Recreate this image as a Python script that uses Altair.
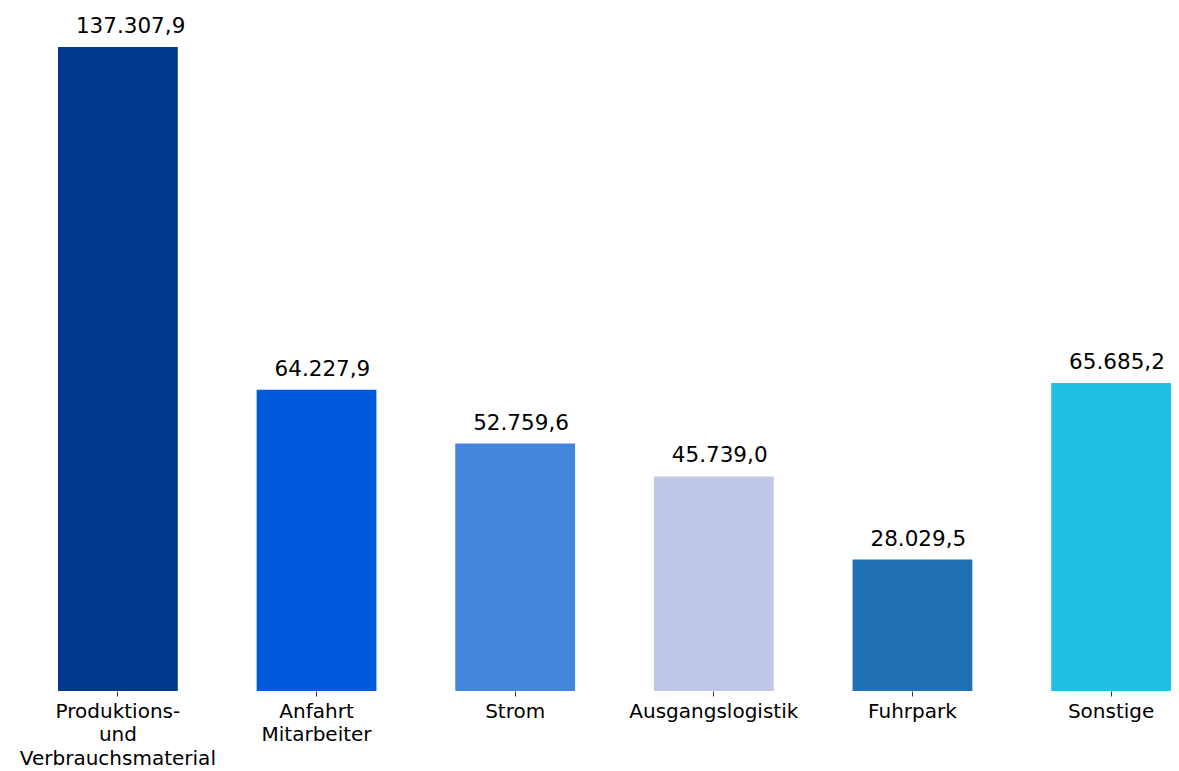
import altair as alt
import pandas as pd

categories = ["Produktions-\nund\nVerbrauchsmaterial", "Anfahrt\nMitarbeiter", "Strom",
              "Ausgangslogistik", "Fuhrpark", "Sonstige"]
values = [137307.9, 64227.9, 52759.6, 45739.0, 28029.5, 65685.2]
colors = ["#003a8f", "#005bdc", "#4485dd", "#bfc8e6", "#1f70b4", "#1fbfe6"]

def de_fmt(v):
    s = f"{v:,.1f}"
    return s.replace(",", "X").replace(".", ",").replace("X", ".")

df = pd.DataFrame({
    "cat": categories,
    "value": values,
    "label": [de_fmt(v) for v in values],
    "color": colors,
})

x = alt.X("cat:N", sort=None,
          scale=alt.Scale(paddingInner=0.397, paddingOuter=0),
          axis=alt.Axis(title=None, labelAngle=0, labelFontSize=20, labelFont="DejaVu Sans",
                        labelColor="#000000", domain=False, ticks=True, tickSize=5,
                        tickColor="#333333", labelPadding=5, labelLineHeight=23.5,
                        labelLimit=0, grid=False,
                        labelExpr="split(datum.label, '\\n')"))
y = alt.Y("value:Q", scale=alt.Scale(domain=[0, 137307.9], nice=False), axis=None)

bars = alt.Chart(df).mark_bar().encode(x=x, y=y, color=alt.Color("color:N", scale=None))
text = alt.Chart(df).mark_text(align="left", baseline="alphabetic", dx=-42, dy=-14,
                               fontSize=21.5, font="DejaVu Sans", color="#000000").encode(
    x=x, y=y, text="label:N")

chart = (bars + text).properties(
    width=1113, height=644,
    background="white",
    autosize=alt.AutoSizeParams(type="none"),
    padding={"left": 50, "top": 39, "right": 0, "bottom": 80},
).configure_view(stroke=None)

chart.save("out.html", embed_options={"renderer": "svg", "actions": False})
